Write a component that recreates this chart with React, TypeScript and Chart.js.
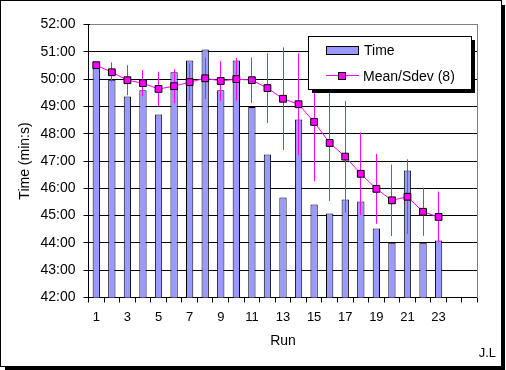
import React, { useEffect, useRef } from 'react';
import { Chart, registerables } from 'chart.js';

Chart.register(...registerables);

// ---- Data (times in decimal minutes) ----
const runLabels = ['1', '2', '3', '4', '5', '6', '7', '8', '9', '10', '11', '12', '13', '14', '15', '16', '17', '18', '19', '20', '21', '22', '23', '', ''];
const timeValues = [50.47, 49.98, 49.36, 49.59, 48.7, 50.25, 50.68, 51.08, 49.59, 50.68, 48.98, 47.24, 45.66, 48.52, 45.41, 45.08, 45.59, 45.52, 44.53, 44.01, 46.65, 44.01, 44.09];
const meanValues = [50.51, 50.25, 49.96, 49.85, 49.64, 49.74, 49.89, 50.03, 49.93, 50.0, 49.96, 49.67, 49.28, 49.08, 48.43, 47.66, 47.16, 46.53, 45.98, 45.56, 45.69, 45.14, 44.95];
const sdevValues = [0.1, 0.36, 0.55, 0.48, 0.63, 0.62, 0.68, 0.76, 0.73, 0.78, 0.83, 1.28, 1.88, 1.87, 2.17, 2.12, 2.04, 1.51, 1.28, 1.31, 1.37, 0.88, 0.93];
const yMin = 42;
const yMax = 52;
const seriesNames = ['Time', 'Mean/Sdev (8)'];
const yTitle = 'Time (min:s)';
const xTitle = 'Run';
const credit = 'J.L';

const FONT = '"Liberation Sans", Arial, sans-serif';
const BAR_COLOR = '#9999FF';
const LINE_COLOR = '#FF00FF';

function fmt(v: number): string {
  const m = Math.floor(v + 1e-9);
  const s = Math.round((v - m) * 60);
  return `${m}:${String(s).padStart(2, '0')}`;
}

const decorPlugin = {
  id: 'decor',
  beforeDraw(chart: any) {
    const ctx = chart.ctx;
    ctx.save();
    ctx.fillStyle = '#fff';
    ctx.fillRect(0, 0, chart.width, chart.height);
    ctx.fillStyle = '#000';
    ctx.fillRect(502, 5, 3, 365);
    ctx.fillRect(5, 367, 500, 3);
    ctx.strokeStyle = '#000';
    ctx.lineWidth = 1;
    ctx.strokeRect(0.5, 0.5, 501, 366);
    ctx.restore();
  },
  beforeDatasetsDraw(chart: any) {
    const ctx = chart.ctx;
    const a = chart.chartArea;
    ctx.save();
    ctx.strokeStyle = '#808080';
    ctx.lineWidth = 1;
    ctx.beginPath();
    const top = Math.round(a.top - 0.5) + 0.5;
    const right = Math.round(a.right - 0.5) + 0.5;
    ctx.moveTo(Math.round(a.left) + 1, top);
    ctx.lineTo(right, top);
    ctx.lineTo(right, Math.round(a.bottom));
    ctx.stroke();
    ctx.restore();
  },
  beforeDatasetDraw(chart: any, args: any) {
    if (args.index !== 1) return;
    const ctx = chart.ctx;
    const y = chart.scales.y;
    const meta = chart.getDatasetMeta(1);
    const a = chart.chartArea;
    ctx.save();
    ctx.beginPath();
    ctx.rect(a.left, a.top, a.right - a.left, a.bottom - a.top);
    ctx.clip();
    ctx.strokeStyle = LINE_COLOR;
    ctx.lineWidth = 1;
    meta.data.forEach((pt: any, i: number) => {
      const m = meanValues[i];
      const s = sdevValues[i];
      const x = Math.floor(pt.x) + 0.5;
      ctx.beginPath();
      ctx.moveTo(x, y.getPixelForValue(m + s));
      ctx.lineTo(x, y.getPixelForValue(m - s));
      ctx.stroke();
    });
    ctx.restore();
  },
  afterDraw(chart: any) {
    const ctx = chart.ctx;
    ctx.save();
    // legend box with shadow
    ctx.fillStyle = '#000';
    ctx.fillRect(472, 40, 3, 53);
    ctx.fillRect(312, 90, 163, 3);
    ctx.fillStyle = '#fff';
    ctx.fillRect(308, 36, 164, 54);
    ctx.strokeStyle = '#000';
    ctx.lineWidth = 1;
    ctx.strokeRect(308.5, 36.5, 163, 53);
    // bar swatch
    ctx.fillStyle = BAR_COLOR;
    ctx.fillRect(327, 47, 31, 7);
    ctx.strokeRect(326.5, 46.5, 32, 8);
    // line swatch
    ctx.strokeStyle = LINE_COLOR;
    ctx.beginPath();
    ctx.moveTo(326, 75.5);
    ctx.lineTo(359, 75.5);
    ctx.stroke();
    ctx.fillStyle = LINE_COLOR;
    ctx.fillRect(339, 72, 7, 7);
    ctx.strokeStyle = '#000';
    ctx.strokeRect(338.5, 72.5, 7, 7);
    // texts
    ctx.fillStyle = '#000';
    ctx.font = `14px ${FONT}`;
    ctx.textBaseline = 'alphabetic';
    ctx.textAlign = 'left';
    ctx.fillText(seriesNames[0], 364, 55);
    ctx.fillText(seriesNames[1], 363, 81);
    ctx.font = `13px ${FONT}`;
    ctx.textAlign = 'right';
    ctx.fillText(credit, 496, 357);
    ctx.restore();
  },
};

export default function App() {
  const ref = useRef<HTMLCanvasElement>(null);

  useEffect(() => {
    if (!ref.current) return;
    const chart = new Chart(ref.current, {
      type: 'bar',
      data: {
        labels: runLabels,
        datasets: [
          {
            type: 'bar',
            label: seriesNames[0],
            data: timeValues,
            backgroundColor: BAR_COLOR,
            borderColor: '#000',
            borderWidth: 1,
            barPercentage: 0.47,
            categoryPercentage: 1,
            order: 1,
          } as any,
          {
            type: 'line',
            label: seriesNames[1],
            data: meanValues,
            borderColor: LINE_COLOR,
            borderWidth: 1,
            tension: 0,
            pointStyle: 'rect',
            pointRadius: 4.8,
            pointBackgroundColor: LINE_COLOR,
            pointBorderColor: '#000',
            pointBorderWidth: 1,
            order: 0,
          } as any,
        ],
      },
      options: {
        responsive: false,
        animation: false,
        layout: { padding: { left: 0, top: 24.5, right: 28.5, bottom: 0 } },
        plugins: {
          legend: { display: false },
          tooltip: { enabled: false },
        },
        scales: {
          x: {
            type: 'category',
            offset: true,
            grid: { offset: true, drawOnChartArea: false, drawTicks: true, tickLength: 5, color: '#000' },
            border: { color: '#000', width: 1 },
            ticks: {
              autoSkip: false,
              maxRotation: 0,
              color: '#000',
              padding: 7,
              font: { family: FONT, size: 13 },
              callback: (_v: any, i: number) => (i % 2 === 0 ? runLabels[i] : ''),
            },
            title: { display: true, text: xTitle, color: '#000', font: { family: FONT, size: 14 }, padding: { top: 0, bottom: 20 } },
            afterFit: (s: any) => { s.height = 72.5; },
          },
          y: {
            min: yMin,
            max: yMax,
            grid: { color: '#000', lineWidth: 1, tickLength: 5, drawTicks: true },
            border: { color: '#000', width: 1 },
            ticks: {
              stepSize: 1,
              color: '#000',
              padding: 8,
              font: { family: FONT, size: 14 },
              callback: (v: any) => fmt(Number(v)),
            },
            title: { display: true, text: yTitle, color: '#000', font: { family: FONT, size: 14 }, padding: { top: 17, bottom: 0 } },
            afterFit: (s: any) => { s.width = 88.5; },
          },
        },
      } as any,
      plugins: [decorPlugin],
    });
    return () => chart.destroy();
  }, []);

  return (
    <div style={{ position: 'absolute', left: 0, top: 0, width: 506, height: 370 }}>
      <canvas ref={ref} width={506} height={370} style={{ display: 'block', width: 506, height: 370 }} />
    </div>
  );
}
